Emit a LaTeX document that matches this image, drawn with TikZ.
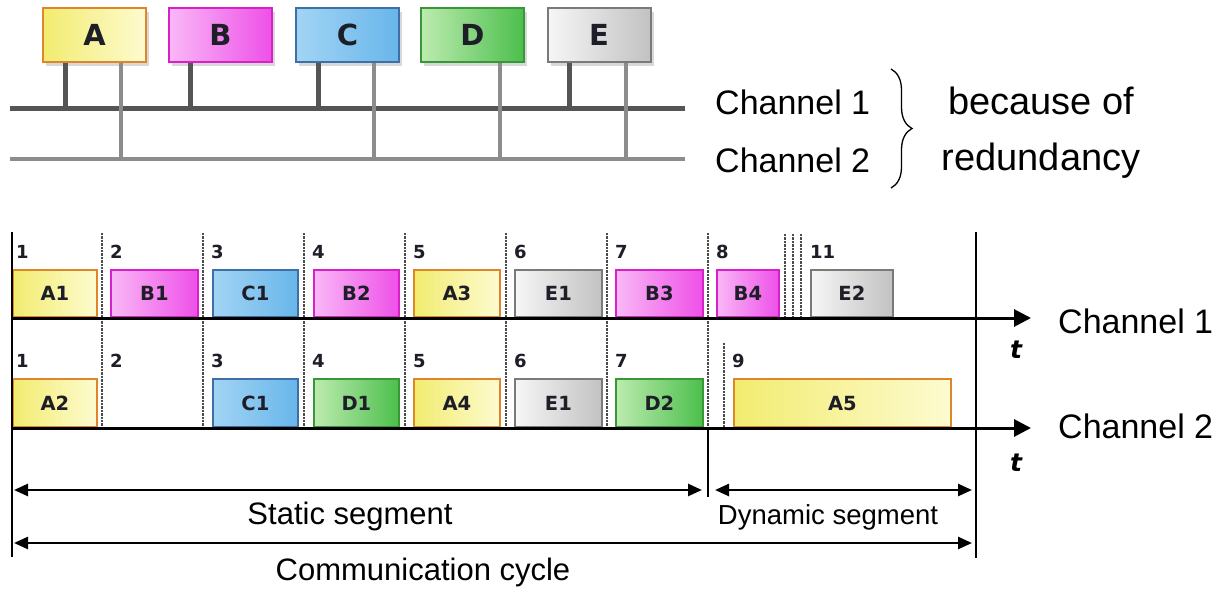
\documentclass[tikz,border=0pt]{standalone}
\usepackage{fontspec}
\setmainfont{Liberation Sans}
\newfontfamily\bfont{DejaVu Sans}
\usetikzlibrary{arrows.meta,shadows,decorations.pathreplacing}
\definecolor{yelL}{HTML}{F2EC70}\definecolor{yelR}{HTML}{FDFBD0}\definecolor{yelB}{HTML}{E0862A}
\definecolor{magL}{HTML}{F9B8F6}\definecolor{magR}{HTML}{EE50E8}\definecolor{magB}{HTML}{D820C8}
\definecolor{bluL}{HTML}{A2D4F4}\definecolor{bluR}{HTML}{68B6EA}\definecolor{bluB}{HTML}{3E6FA6}
\definecolor{grnL}{HTML}{BDEBB0}\definecolor{grnR}{HTML}{4CBF4C}\definecolor{grnB}{HTML}{389838}
\definecolor{gryL}{HTML}{F6F6F6}\definecolor{gryR}{HTML}{C2C2C2}\definecolor{gryB}{HTML}{7A7A7A}
\definecolor{busD}{HTML}{555555}\definecolor{busL}{HTML}{8C8C8C}
\definecolor{txt}{HTML}{1E1E28}
\tikzset{
  ecu/.style={draw, line width=2pt, minimum width=103pt, minimum height=54pt, inner sep=0pt,
    font=\bfont\bfseries\fontsize{29}{29}\selectfont, text=txt,
    drop shadow={shadow xshift=3pt,shadow yshift=-4pt,opacity=0.3}},
  frm/.style={draw, line width=1.8pt, anchor=south west, minimum height=47pt, inner sep=0pt,
    font=\bfont\bfseries\fontsize{19.5}{19.5}\selectfont, text=txt},
  yel/.style={left color=yelL,right color=yelR,draw=yelB},
  mag/.style={left color=magL,right color=magR,draw=magB},
  blu/.style={left color=bluL,right color=bluR,draw=bluB},
  grn/.style={left color=grnL,right color=grnR,draw=grnB},
  gry/.style={left color=gryL,right color=gryR,draw=gryB},
  num/.style={anchor=west, inner sep=0pt, font=\bfont\bfseries\fontsize{18}{18}\selectfont, text=txt},
  slotline/.style={draw=black!70, line width=2.8pt, dash pattern=on 2.4pt off 1pt},
  axisline/.style={line width=3pt, -{Triangle[length=17pt,width=17pt]}},
  segarrow/.style={line width=2.5pt, {Triangle[length=14pt,width=12pt]}-{Triangle[length=14pt,width=12pt]}},
  bound/.style={line width=2.5pt},
  busdark/.style={draw=busD, line width=5pt},
  buslight/.style={draw=busL, line width=4pt},
  lbl/.style={inner sep=0pt, font=\fontsize{34}{34}\selectfont},
  big/.style={inner sep=0pt, font=\fontsize{38}{38}\selectfont},
  seglbl/.style={inner sep=0pt, font=\fontsize{31}{31}\selectfont},
  tlbl/.style={inner sep=0pt, font=\bfont\bfseries\itshape\fontsize{25}{25}\selectfont}
}
\begin{document}
\begin{tikzpicture}[x=1pt,y=-1pt]
\useasboundingbox[fill=white] (0,0) rectangle (1231,591);
% ---------- bus topology ----------
\coordinate (c1L) at (10,109); \coordinate (c1R) at (685,109);
\coordinate (c2L) at (10,159); \coordinate (c2R) at (685,159);
\draw[buslight] (c2L) -- (c2R);
\draw[busdark] (c1L) -- (c1R);
\node[ecu,yel] (A) at (94.5,35) {A};
\node[ecu,mag] (B) at (220.5,35) {B};
\node[ecu,blu] (C) at (347.5,35) {C};
\node[ecu,grn] (D) at (472.5,35) {D};
\node[ecu,gry] (E) at (599,35) {E};
\draw[busdark]  ([xshift=23pt]A.south west) -- ([xshift=23pt]A.south west |- c1L);
\draw[buslight] ([xshift=79pt]A.south west) -- ([xshift=79pt]A.south west |- c2L);
\draw[busdark]  ([xshift=22pt]B.south west) -- ([xshift=22pt]B.south west |- c1L);
\draw[busdark]  ([xshift=23pt]C.south west) -- ([xshift=23pt]C.south west |- c1L);
\draw[buslight] ([xshift=79pt]C.south west) -- ([xshift=79pt]C.south west |- c2L);
\draw[buslight] ([xshift=80pt]D.south west) -- ([xshift=80pt]D.south west |- c2L);
\draw[busdark]  ([xshift=23pt]E.south west) -- ([xshift=23pt]E.south west |- c1L);
\draw[buslight] ([xshift=79pt]E.south west) -- ([xshift=79pt]E.south west |- c2L);
\node[lbl,anchor=base west] (ch1t) at (715,115) {Channel 1};
\node[lbl,anchor=base west] (ch2t) at (715,172) {Channel 2};
\coordinate (brT) at (891,69); \coordinate (brB) at (891,188);
\draw[line width=1.3pt, decorate, decoration={brace, amplitude=21pt}] (brT) -- (brB);
\node[big,anchor=base] (bec) at (1041,115) {because of};
\node[big,anchor=base] (red) at (1041,170) {redundancy};
% ---------- timing diagram ----------
\foreach \x in {102,203,304,405,506,607,708}
  \draw[slotline] (\x,233) -- (\x,428);
\foreach \x in {785,793,801}
  \draw[slotline] (\x,234) -- (\x,318);
\draw[slotline] (724,343) -- (724,428);
% channel 1 frames
\node[frm,yel,minimum width=84pt] (A1) at (12,318) {A1};
\node[frm,mag,minimum width=87pt] (B1) at (110,318) {B1};
\node[frm,blu,minimum width=85pt] (C1) at (212,318) {C1};
\node[frm,mag,minimum width=85pt] (B2) at (313,318) {B2};
\node[frm,yel,minimum width=86pt] (A3) at (413,318) {A3};
\node[frm,gry,minimum width=87pt] (E1) at (514,318) {E1};
\node[frm,mag,minimum width=87pt] (B3) at (615,318) {B3};
\node[frm,mag,minimum width=62pt] (B4) at (716,318) {B4};
\node[frm,gry,minimum width=82pt] (E2) at (810,318) {E2};
% channel 2 frames
\node[frm,yel,minimum width=84pt,minimum height=48pt] (A2) at (12,428) {A2};
\node[frm,blu,minimum width=85pt,minimum height=48pt] (C1b) at (212,428) {C1};
\node[frm,grn,minimum width=85pt,minimum height=48pt] (D1) at (313,428) {D1};
\node[frm,yel,minimum width=86pt,minimum height=48pt] (A4) at (413,428) {A4};
\node[frm,gry,minimum width=87pt,minimum height=48pt] (E1b) at (514,428) {E1};
\node[frm,grn,minimum width=87pt,minimum height=48pt] (D2) at (615,428) {D2};
\node[frm,yel,minimum width=217pt,minimum height=48pt] (A5) at (733,428) {A5};
% slot numbers
\node[num] (n11) at (16,252) {1};  \node[num] (n12) at (110,252) {2};
\node[num] (n13) at (211,252) {3}; \node[num] (n14) at (312,252) {4};
\node[num] (n15) at (413,252) {5}; \node[num] (n16) at (514,252) {6};
\node[num] (n17) at (615,252) {7}; \node[num] (n18) at (716,252) {8};
\node[num] (n111) at (810,252) {11};
\node[num] (n21) at (16,361) {1};  \node[num] (n22) at (110,361) {2};
\node[num] (n23) at (211,361) {3}; \node[num] (n24) at (312,361) {4};
\node[num] (n25) at (413,361) {5}; \node[num] (n26) at (514,361) {6};
\node[num] (n27) at (615,361) {7}; \node[num] (n29) at (732,361) {9};
% boundaries
\coordinate (LT) at (12,232); \coordinate (LB) at (12,557);
\coordinate (RT) at (976,232); \coordinate (RB) at (976,558);
\coordinate (MT) at (708,428); \coordinate (MB) at (708,497);
\draw[bound] (LT) -- (LB);
\draw[bound] (RT) -- (RB);
\draw[bound] (MT) -- (MB);
% axes
\coordinate (ax1L) at (12,318); \coordinate (ax1R) at (1031,318);
\coordinate (ax2L) at (12,428); \coordinate (ax2R) at (1031,428);
\draw[axisline] (ax1L) -- (ax1R);
\draw[axisline] (ax2L) -- (ax2R);
\node[tlbl] (t1) at (1016,350) {t};
\node[tlbl] (t2) at (1016,463) {t};
\node[lbl,anchor=base west] (ch1r) at (1058,333) {Channel 1};
\node[lbl,anchor=base west] (ch2r) at (1058,438) {Channel 2};
% segments
\coordinate (sL) at (14,490); \coordinate (sR) at (702,490);
\coordinate (dL) at (715,490); \coordinate (dR) at (972,490);
\coordinate (cL) at (14,543); \coordinate (cR) at (972,543);
\draw[segarrow] (sL) -- (sR);
\draw[segarrow] (dL) -- (dR);
\draw[segarrow] (cL) -- (cR);
\node[seglbl] (stat) at (350,516) {Static segment};
\node[inner sep=0pt, font=\fontsize{27.5}{27.5}\selectfont] (dyn) at (828,517) {Dynamic segment};
\node[seglbl] (comm) at (423,572) {Communication cycle};
\end{tikzpicture}
\end{document}
